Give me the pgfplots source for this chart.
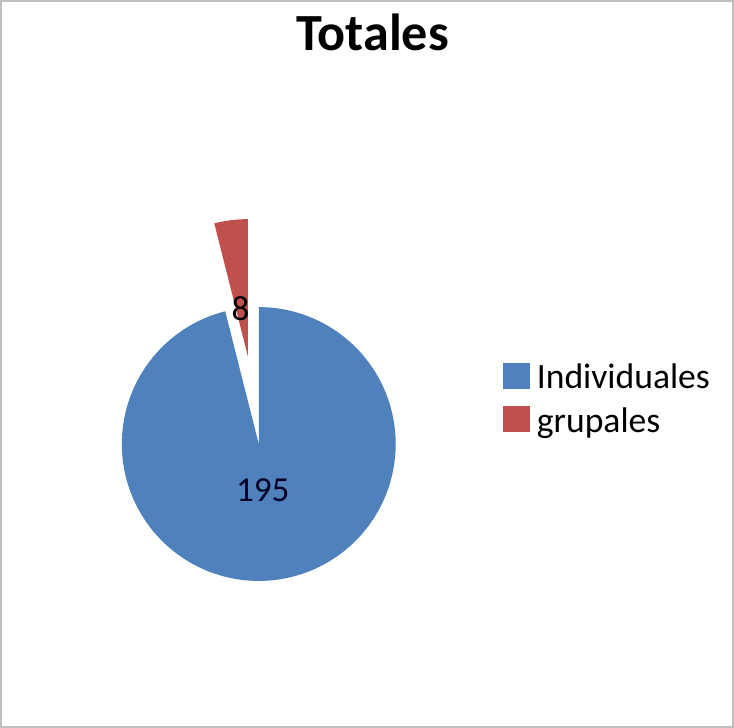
\documentclass[border=0pt]{standalone}
\usepackage{pgfplots}
\pgfplotsset{compat=1.18}
\usepackage{pgfplotstable}
\usepackage{fontspec}
\setmainfont{Carlito}
\definecolor{indiv}{HTML}{4F81BD}
\definecolor{grup}{HTML}{C0504D}
\definecolor{frame}{RGB}{192,192,192}
\pgfplotstableread{
label value
Individuales 195
grupales 8
}\datatable
\pgfplotstablegetelem{0}{value}\of\datatable \let\vA\pgfplotsretval
\pgfplotstablegetelem{1}{value}\of\datatable \let\vB\pgfplotsretval
\pgfmathsetmacro\tot{\vA+\vB}
\pgfmathsetmacro\angB{90+360*\vB/\tot}
\pgfmathsetmacro\midB{90+180*\vB/\tot}
\def\cx{261}\def\cy{283}\def\rr{136}\def\off{88}
\pgfmathsetmacro\ox{\cx+\off*cos(\midB)}
\pgfmathsetmacro\oy{\cy+\off*sin(\midB)}
\begin{document}
\begin{tikzpicture}
\begin{axis}[
  width=734bp, height=728bp, scale only axis,
  xmin=0, xmax=734, ymin=0, ymax=728,
  hide axis, clip=false,
  legend style={at={(axis cs:503,364)}, anchor=north west, draw=none, fill=none,
    font=\fontsize{35.5}{42}\selectfont, row sep=9bp, inner sep=0pt,
    nodes={inner sep=0pt, text height=24bp, text depth=8bp},
    /tikz/every odd column/.append style={column sep=7bp}},
  legend cell align=left,
  legend image code/.code={\fill[#1] (0bp,-8bp) rectangle (27bp,18bp);},
]
\addplot[fill=indiv, draw=none, domain=\angB:450, samples=150, variable=\t]
  ({\cx+\rr*cos(\t)},{\cy+\rr*sin(\t)}) -- (axis cs:\cx,\cy) -- cycle;
\addlegendentry{Individuales}
\addplot[fill=grup, draw=none, domain=90:\angB, samples=20, variable=\t]
  ({\ox+\rr*cos(\t)},{\oy+\rr*sin(\t)}) -- (axis cs:\ox,\oy) -- cycle;
\addlegendentry{grupales}
\node[font=\fontsize{35}{42}\selectfont, text=black!85!blue, anchor=base] at (axis cs:265,226) {\vA};
\node[font=\fontsize{35}{42}\selectfont, text=black, anchor=base] at (axis cs:243,406) {\vB};
\node[font=\bfseries\fontsize{52}{60}\selectfont, anchor=base] at (axis cs:374,674) {Totales};
\draw[frame, line width=2bp] (axis cs:5,2) rectangle (axis cs:732,723);
\end{axis}
\end{tikzpicture}
\end{document}
